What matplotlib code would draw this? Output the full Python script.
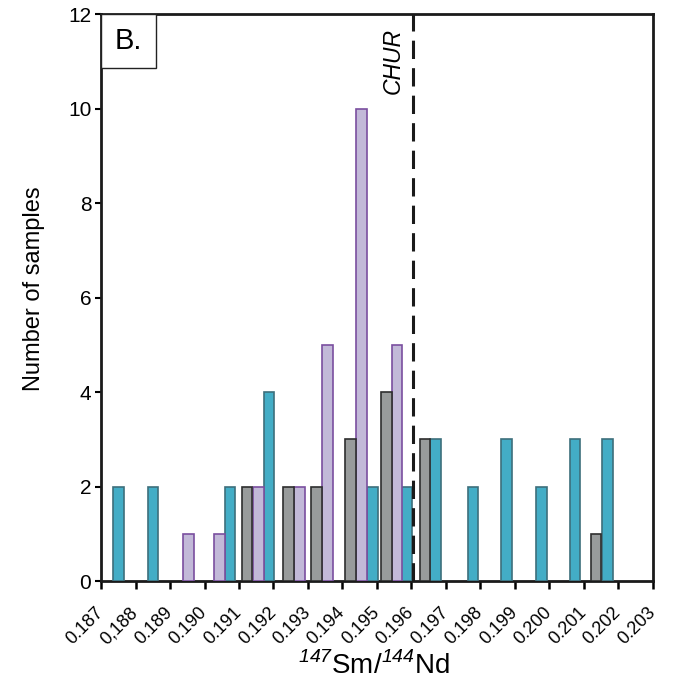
import matplotlib
matplotlib.use('Agg')
import matplotlib.pyplot as plt
from matplotlib.patches import Rectangle

# 147Sm/144Nd values (bar centres) and sample counts for each group
teal_ratio = [0.18751, 0.18851, 0.19074, 0.19187, 0.19487, 0.19586,
              0.19669, 0.19778, 0.19875, 0.19977, 0.20074, 0.20169]
teal_count = [2, 2, 2, 4, 2, 2, 3, 2, 3, 2, 3, 3]

purple_ratio = [0.18953, 0.19043, 0.19156, 0.19275, 0.19356, 0.19455, 0.19558]
purple_count = [1, 1, 2, 2, 5, 10, 5]

gray_ratio = [0.19123, 0.19244, 0.19325, 0.19423, 0.19528, 0.19639, 0.20135]
gray_count = [2, 2, 2, 3, 4, 3, 1]

tick_values = [0.187 + 0.001 * i for i in range(17)]
tick_labels = ['0.187', '0,188', '0.189', '0.190', '0.191', '0.192', '0.193',
               '0.194', '0.195', '0.196', '0.197', '0.198', '0.199', '0.200',
               '0.201', '0.202', '0.203']
chur = 0.19605

plt.rcParams['font.family'] = ['Liberation Sans', 'DejaVu Sans']
plt.rcParams['mathtext.fontset'] = 'custom'
plt.rcParams['mathtext.rm'] = 'Liberation Sans'
plt.rcParams['mathtext.sf'] = 'Liberation Sans:italic'

fig = plt.figure(figsize=(6.78, 6.88), dpi=100)
ax = fig.add_axes([0.149, 0.1555, 0.814, 0.824])

w = 0.00031
ax.bar(teal_ratio, teal_count, width=w, color='#43adc6', edgecolor='#3d6f7c', linewidth=1.2, zorder=3)
ax.bar(purple_ratio, purple_count, width=w, color='#c2b9d8', edgecolor='#7a4f9f', linewidth=1.2, zorder=3)
ax.bar(gray_ratio, gray_count, width=w, color='#989b9b', edgecolor='#2e2e2e', linewidth=1.2, zorder=3)

ax.axvline(chur, color='#1a1a1a', linewidth=2.2, linestyle=(0, (6, 3)), zorder=4)
ax.text(chur - 0.00025, 11.7, 'CHUR', rotation=90, ha='right', va='top',
        fontsize=16.5, style='italic')

ax.set_xlim(0.187, 0.203)
ax.set_ylim(0, 12)
ax.set_xticks(tick_values)
ax.set_xticklabels(tick_labels, rotation=45, ha='right', va='center',
                   rotation_mode='anchor', fontsize=13)
ax.set_yticks(range(0, 13, 2))
ax.tick_params(axis='y', labelsize=15, length=4, width=1.5, pad=3)
ax.tick_params(axis='x', length=6, width=1.8, pad=15)

for s in ax.spines.values():
    s.set_linewidth(2)
    s.set_color('#1a1a1a')

ax.set_ylabel('Number of samples', fontsize=17)
ax.yaxis.set_label_coords(-0.101, 0.515)
ax.set_xlabel(r'$^{\mathsf{147}}$Sm/$^{\mathsf{144}}$Nd', fontsize=20)
ax.xaxis.set_label_coords(0.494, -0.125)

box = Rectangle((0.0, 0.905), 0.1, 0.095, transform=ax.transAxes, facecolor='white',
                edgecolor='#222222', linewidth=1, zorder=5)
ax.add_patch(box)
ax.text(0.05, 0.952, 'B.', transform=ax.transAxes, ha='center', va='center',
        fontsize=21, zorder=6)

fig.savefig('out.png', dpi=100)
